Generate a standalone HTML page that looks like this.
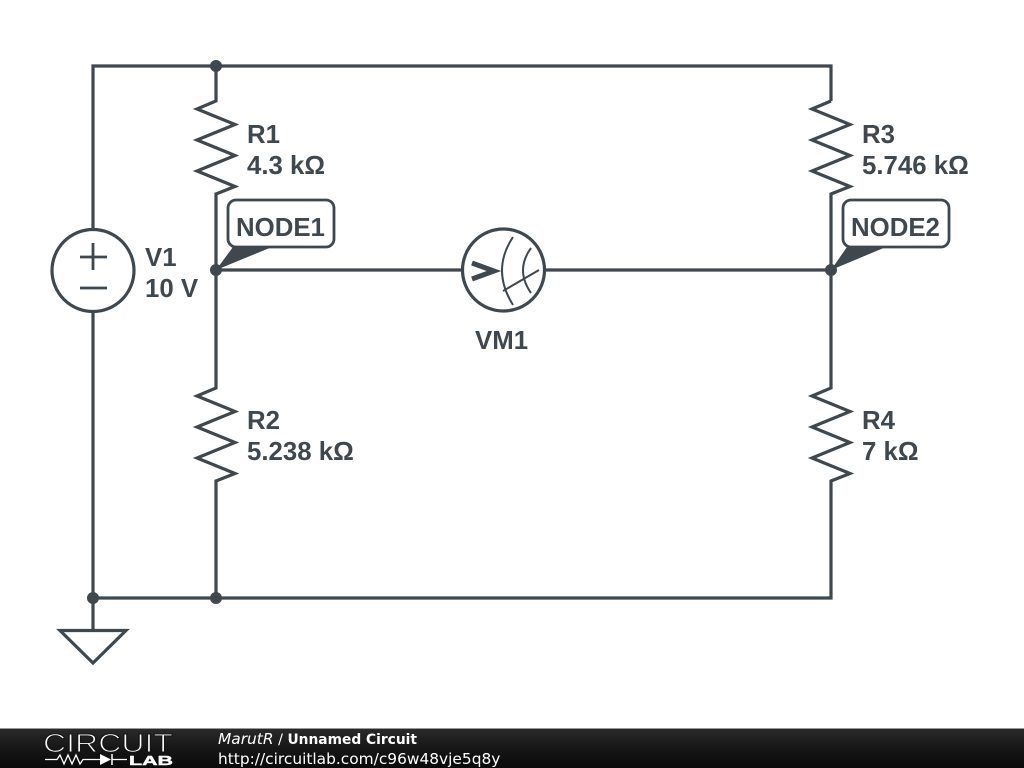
<!DOCTYPE html>
<html><head><meta charset="utf-8"><style>
html,body{margin:0;padding:0;background:#fff;width:1024px;height:768px;overflow:hidden}
svg{display:block}
.t{font-family:"Liberation Sans",sans-serif;font-weight:bold;font-size:25.800px;fill:#3f484e}
.f{font-family:"DejaVu Sans",sans-serif;fill:#fff}
</style></head><body>
<svg width="1024" height="768" viewBox="0 0 1024 768" xmlns="http://www.w3.org/2000/svg">
<defs><linearGradient id="g" x1="0" y1="0" x2="0" y2="1"><stop offset="0" stop-color="#2a2a2a"/><stop offset="0.5" stop-color="#161616"/><stop offset="1" stop-color="#0a0a0a"/></linearGradient></defs>
<g fill="none" stroke="#3f484e" stroke-width="3.2" stroke-linejoin="miter">
<path d="M93 229V66H831V101"/>
<path d="M216 66V101L197 109L235 124.500L197 140L235 155.500L197 171L235 186.500L216 194V270"/>
<path d="M831 101L812 109L850 124.500L812 140L850 155.500L812 171L850 186.500L831 194V270"/>
<path d="M216 270V388L197 396L235 411.500L197 427L235 442.500L197 458L235 473.500L216 481V598"/>
<path d="M831 270V388L812 396L850 411.500L812 427L850 442.500L812 458L850 473.500L831 481V598H93"/>
<path d="M216 270H462M545 270H831"/>
<path d="M93 312V630"/>
<circle cx="93" cy="270.500" r="41"/>
<circle cx="503.500" cy="270" r="41"/>
<path d="M60 630.500H126L93 663Z"/>
<path d="M80 257H107M93 243V270M80 288H107" stroke-width="2.800"/>
<path d="M472 263L494 271L472 279" stroke-width="5"/>
<path d="M513 237Q491 270 513 305M531 248Q515 270 531 293M503 291L539 270" stroke-width="2"/>
<rect x="228" y="200" width="106" height="47" rx="8" stroke-width="2.800"/>
<rect x="843" y="200" width="106" height="47" rx="8" stroke-width="2.800"/>
</g>
<g fill="#3f484e">
<circle cx="216" cy="66" r="6"/><circle cx="216" cy="270" r="6"/><circle cx="831" cy="270" r="6"/>
<circle cx="93" cy="598" r="6"/><circle cx="216" cy="598" r="6"/>
<path d="M216 270L233 247H272Z"/><path d="M831 270L847 247H886Z"/>
</g>
<text class="t" x="247" y="143">R1</text><text class="t" x="247" y="174">4.3 kΩ</text>
<text class="t" x="862" y="143">R3</text><text class="t" x="862" y="174">5.746 kΩ</text>
<text class="t" x="247" y="429">R2</text><text class="t" x="247" y="460">5.238 kΩ</text>
<text class="t" x="862" y="429">R4</text><text class="t" x="862" y="460">7 kΩ</text>
<text class="t" x="145" y="266">V1</text><text class="t" x="145" y="297">10 V</text>
<text class="t" x="475" y="349">VM1</text>
<text class="t" x="236" y="236">NODE1</text><text class="t" x="851" y="236">NODE2</text>
<rect x="0" y="729" width="1024" height="39" fill="url(#g)"/>
<rect x="0" y="728" width="1024" height="1" fill="#999"/>
<text x="43" y="752" font-family="Liberation Sans,sans-serif" font-size="26" fill="#fff" stroke="#161616" stroke-width="1.100" textLength="130" lengthAdjust="spacingAndGlyphs">CIRCUIT</text>
<path d="M45 759.500H57L60 755L64 764L68 755L72 764L76 755L80 764L83 759.500H100M112 759.500H127" stroke="#fff" stroke-width="1.300" fill="none"/>
<path d="M100 754L111 759.500L100 765Z" fill="#fff"/><path d="M112 754V765" stroke="#fff" stroke-width="1.500"/>
<text x="129" y="765" font-family="Liberation Sans,sans-serif" font-weight="bold" font-size="12.500" fill="#fff" stroke="#fff" stroke-width="0.400" textLength="44" lengthAdjust="spacingAndGlyphs">LAB</text>
<text class="f" x="218" y="744" font-size="14.300"><tspan font-style="italic" font-size="15.400">MarutR</tspan> / <tspan font-weight="bold" font-size="13.800">Unnamed Circuit</tspan></text>
<text class="f" x="218" y="764" font-size="15.400">http://circuitlab.com/c96w48vje5q8y</text>
</svg>
</body></html>
